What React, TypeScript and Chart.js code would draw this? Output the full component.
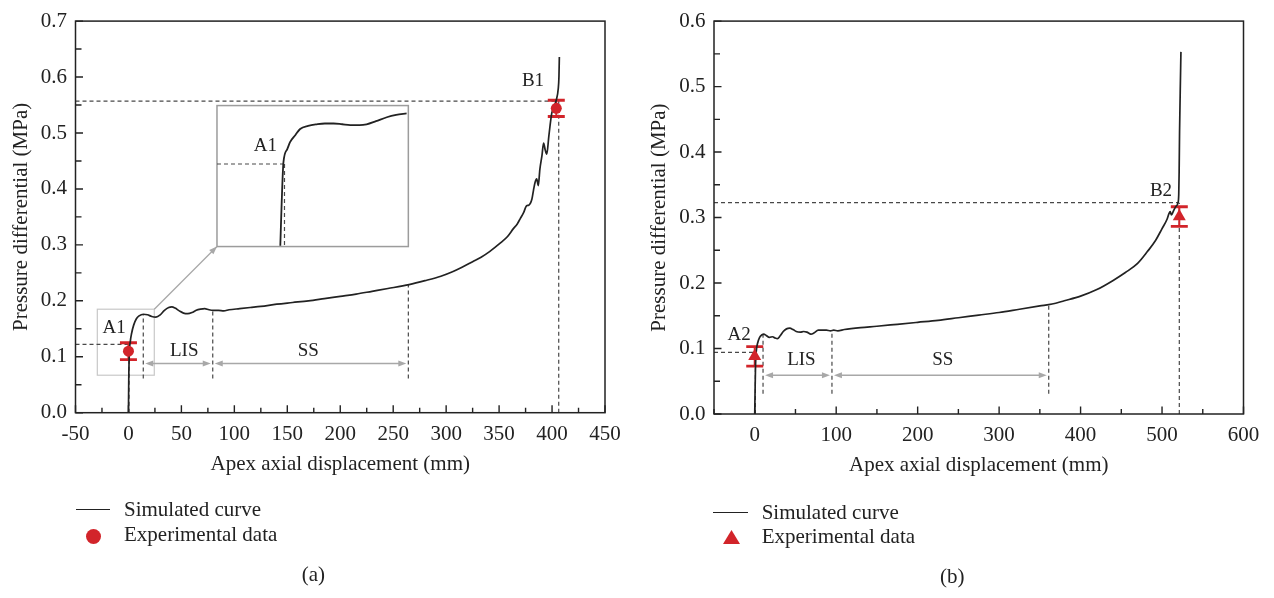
import React, { useEffect, useRef } from "react";
import { Chart, registerables } from "chart.js";

Chart.register(...registerables);

const SERIF = '"Liberation Serif", "Times New Roman", serif';
const INK = "#222222";
const RED = "rgb(210, 36, 42)";
const GUIDE = "#484848";
const ARROW = "#a8a8a8";

type Seg = [number, number, number, number];
type Note = [string, number, number];

// ---------------- Panel (a) ----------------
const aCurveX = [0, 0.3, 0.8, 1.8, 3, 5, 7.5, 10, 14, 18, 22, 26, 30, 34, 38, 41, 44, 48, 52, 56, 60, 64, 68, 72, 76, 80, 85, 90, 95, 105, 115, 125, 140, 155, 170, 185, 200, 215, 230, 245, 265, 280, 295, 306, 315, 325, 333, 341, 351, 358, 363.5, 367, 370, 373, 376, 378, 381, 382.5, 384, 385.5, 387, 388.5, 390.5, 392, 393.5, 395, 397, 399.7, 402, 404, 405.9, 406.5, 406.9];
const aCurveY = [0, 0.06, 0.105, 0.128, 0.142, 0.157, 0.168, 0.173, 0.176, 0.175, 0.172, 0.171, 0.175, 0.183, 0.188, 0.189, 0.187, 0.182, 0.178, 0.177, 0.179, 0.183, 0.185, 0.186, 0.184, 0.183, 0.183, 0.182, 0.184, 0.186, 0.188, 0.19, 0.194, 0.197, 0.2, 0.204, 0.208, 0.212, 0.217, 0.222, 0.229, 0.236, 0.244, 0.252, 0.26, 0.27, 0.278, 0.288, 0.303, 0.315, 0.329, 0.337, 0.347, 0.357, 0.37, 0.371, 0.382, 0.398, 0.412, 0.418, 0.406, 0.435, 0.46, 0.482, 0.47, 0.462, 0.495, 0.535, 0.548, 0.559, 0.58, 0.6, 0.636];
const aExpX = [0, 404];
const aExpY = [0.11, 0.544];
const aExpErr = [0.015, 0.0145];
const aXRange = [-50, 450];
const aYRange = [0, 0.7];
const aXLabels = [-50, 0, 50, 100, 150, 200, 250, 300, 350, 400, 450];
const aYLabels = [0, 0.1, 0.2, 0.3, 0.4, 0.5, 0.6, 0.7];
const aGuides: Seg[] = [
  [-50, 0.122, 0, 0.122],
  [0.5, 0, 0.5, 0.122],
  [14, 0.061, 14, 0.176],
  [79.6, 0.061, 79.6, 0.184],
  [264.3, 0.061, 264.3, 0.229],
  [-50, 0.557, 406.3, 0.557],
  [406.3, 0, 406.3, 0.557],
];
const aSpans = [
  [14, 79.6, 0.088],
  [79.6, 264.3, 0.088],
];
const aNotes: Note[] = [
  ["A1", -13.6, 0.152],
  ["LIS", 52.7, 0.111],
  ["SS", 169.8, 0.111],
  ["B1", 382, 0.593],
];
const aZoomBox = [-29.4, 24.4, 0.067, 0.185];
const aInsetBox = [83.6, 264.3, 0.297, 0.549];
const aInsetRange = [-19, 36, 0.014, 0.195];
const aInsetX = [-0.8, -0.4, 0.1, 1.2, 2.0, 3.5, 4.9, 7.2, 9.7, 12, 14.5, 17, 19.3, 22, 24, 26.7, 29.8, 32.5, 35.5];
const aInsetY = [0.015, 0.071, 0.122, 0.139, 0.148, 0.157, 0.165, 0.169, 0.171, 0.172, 0.172, 0.171, 0.17, 0.17, 0.171, 0.175, 0.18, 0.183, 0.185];
const aInsetGuides: Seg[] = [
  [-19, 0.12, 0.1, 0.12],
  [0.4, 0.12, 0.4, 0.014],
];
const aInsetNotes: Note[] = [["A1", -5.1, 0.1435]];

// ---------------- Panel (b) ----------------
const bCurveX = [0, 0.5, 1, 2, 3.5, 6, 9, 11, 14, 18, 22, 25, 28, 31, 35, 39, 43, 47, 51, 56, 60, 64, 69, 73, 78, 83, 88, 93, 97, 102, 110, 130, 150, 175, 200, 225, 250, 275, 300, 325, 350, 365, 380, 400, 420, 440, 455, 470, 482, 492, 500, 506, 508.5, 510, 511.5, 514, 517, 519.5, 520.5, 521, 521.5, 522.3, 523.2];
const bCurveY = [0, 0.04, 0.075, 0.097, 0.108, 0.117, 0.121, 0.122, 0.12, 0.117, 0.118, 0.116, 0.115, 0.119, 0.126, 0.13, 0.131, 0.129, 0.126, 0.125, 0.126, 0.125, 0.122, 0.124, 0.128, 0.128, 0.128, 0.127, 0.128, 0.127, 0.129, 0.132, 0.134, 0.137, 0.14, 0.143, 0.147, 0.151, 0.155, 0.16, 0.165, 0.168, 0.173, 0.18, 0.19, 0.204, 0.216, 0.23, 0.248, 0.265, 0.283, 0.297, 0.306, 0.309, 0.304, 0.31, 0.317, 0.322, 0.335, 0.37, 0.43, 0.49, 0.553];
const bExpX = [0, 521.2];
const bExpY = [0.088, 0.3015];
const bExpErr = [0.015, 0.015];
const bXRange = [-50, 600];
const bYRange = [0, 0.6];
const bXLabels = [0, 100, 200, 300, 400, 500, 600];
const bYLabels = [0, 0.1, 0.2, 0.3, 0.4, 0.5, 0.6];
const bGuides: Seg[] = [
  [-50, 0.094, 0, 0.094],
  [0.8, 0, 0.8, 0.094],
  [10.2, 0.031, 10.2, 0.122],
  [94.8, 0.031, 94.8, 0.128],
  [360.9, 0.031, 360.9, 0.166],
  [-50, 0.3227, 519.5, 0.3227],
  [521.2, 0, 521.2, 0.3227],
];
const bSpans = [
  [10.2, 94.8, 0.059],
  [94.8, 360.9, 0.059],
];
const bNotes: Note[] = [
  ["A2", -19.2, 0.12],
  ["LIS", 57.3, 0.083],
  ["SS", 230.9, 0.083],
  ["B2", 498.7, 0.34],
];

interface Panel {
  curveX: number[];
  curveY: number[];
  expX: number[];
  expY: number[];
  expErr: number[];
  marker: string;
  markerRadius: number;
  xRange: number[];
  xLabels: number[];
  xMinor: number;
  yRange: number[];
  yLabels: number[];
  yMinor: number;
  guides: Seg[];
  spans: number[][];
  notes: Note[];
  zoomBox?: number[];
  insetBox?: number[];
  insetRange?: number[];
  insetX?: number[];
  insetY?: number[];
  insetGuides?: Seg[];
  insetNotes?: Note[];
  area: { left: number; right: number; top: number; bottom: number; yTitle: number; xTitle: number };
}

const panelA: Panel = {
  curveX: aCurveX, curveY: aCurveY, expX: aExpX, expY: aExpY, expErr: aExpErr,
  marker: "circle", markerRadius: 5.5,
  xRange: aXRange, xLabels: aXLabels, xMinor: 25, yRange: aYRange, yLabels: aYLabels, yMinor: 0.05,
  guides: aGuides, spans: aSpans, notes: aNotes,
  zoomBox: aZoomBox, insetBox: aInsetBox, insetRange: aInsetRange,
  insetX: aInsetX, insetY: aInsetY, insetGuides: aInsetGuides, insetNotes: aInsetNotes,
  area: { left: 75.5, right: 605, top: 16.7, bottom: 412.7, yTitle: 21.5, xTitle: 464 },
};

const panelB: Panel = {
  curveX: bCurveX, curveY: bCurveY, expX: bExpX, expY: bExpY, expErr: bExpErr,
  marker: "triangle", markerRadius: 7.5,
  xRange: bXRange, xLabels: bXLabels, xMinor: 50, yRange: bYRange, yLabels: bYLabels, yMinor: 0.05,
  guides: bGuides, spans: bSpans, notes: bNotes,
  area: { left: 77, right: 606.5, top: 18, bottom: 414, yTitle: 22, xTitle: 465 },
};

const W = 637;
const H = 598;

function insetMapper(p: Panel) {
  const box = p.insetBox!;
  const r = p.insetRange!;
  return (xi: number, yi: number) => ({
    x: box[0] + ((xi - r[0]) / (r[1] - r[0])) * (box[1] - box[0]),
    y: box[2] + ((yi - r[2]) / (r[3] - r[2])) * (box[3] - box[2]),
  });
}

function arrowHead(ctx: CanvasRenderingContext2D, x: number, y: number, dx: number, dy: number) {
  const len = Math.hypot(dx, dy) || 1;
  const ux = dx / len, uy = dy / len;
  const hl = 8, hw = 3;
  ctx.beginPath();
  ctx.moveTo(x, y);
  ctx.lineTo(x - ux * hl - uy * hw, y - uy * hl + ux * hw);
  ctx.lineTo(x - ux * hl + uy * hw, y - uy * hl - ux * hw);
  ctx.closePath();
  ctx.fill();
}

function isLabel(v: number, list: number[]) {
  return list.some((t) => Math.abs(t - v) < 1e-6);
}

const decorPlugin = {
  id: "decor",
  beforeDatasetsDraw(chart: any, _args: any, opts: any) {
    const p: Panel = opts.panel;
    if (!p) return;
    const { ctx, scales } = chart;
    const X = (v: number) => scales.x.getPixelForValue(v);
    const Y = (v: number) => scales.y.getPixelForValue(v);
    ctx.save();

    if (p.zoomBox && p.insetBox) {
      const z = p.zoomBox;
      ctx.strokeStyle = "#c8c8c8";
      ctx.lineWidth = 1.2;
      ctx.strokeRect(X(z[0]), Y(z[3]), X(z[1]) - X(z[0]), Y(z[2]) - Y(z[3]));
      const b = p.insetBox;
      ctx.fillStyle = "#ffffff";
      ctx.fillRect(X(b[0]), Y(b[3]), X(b[1]) - X(b[0]), Y(b[2]) - Y(b[3]));
      ctx.strokeStyle = "#9c9c9c";
      ctx.lineWidth = 1.5;
      ctx.strokeRect(X(b[0]), Y(b[3]), X(b[1]) - X(b[0]), Y(b[2]) - Y(b[3]));
      const x0 = X(z[1]), y0 = Y(z[3]), x1 = X(b[0]), y1 = Y(b[2]);
      ctx.strokeStyle = ARROW;
      ctx.fillStyle = ARROW;
      ctx.lineWidth = 1.3;
      ctx.beginPath();
      ctx.moveTo(x0, y0);
      ctx.lineTo(x1, y1);
      ctx.stroke();
      arrowHead(ctx, x1, y1, x1 - x0, y1 - y0);
    }

    ctx.setLineDash([4, 3]);
    ctx.strokeStyle = GUIDE;
    ctx.lineWidth = 1.2;
    for (const [x1, y1, x2, y2] of p.guides) {
      ctx.beginPath();
      ctx.moveTo(X(x1), Y(y1));
      ctx.lineTo(X(x2), Y(y2));
      ctx.stroke();
    }
    if (p.insetGuides) {
      const m = insetMapper(p);
      for (const [x1, y1, x2, y2] of p.insetGuides) {
        const a = m(x1, y1), b = m(x2, y2);
        ctx.beginPath();
        ctx.moveTo(X(a.x), Y(a.y));
        ctx.lineTo(X(b.x), Y(b.y));
        ctx.stroke();
      }
    }
    ctx.setLineDash([]);

    ctx.strokeStyle = ARROW;
    ctx.fillStyle = ARROW;
    ctx.lineWidth = 1.5;
    for (const [xa, xb, yv] of p.spans) {
      const pa = X(xa) + 2, pb = X(xb) - 2, py = Y(yv);
      ctx.beginPath();
      ctx.moveTo(pa + 4, py);
      ctx.lineTo(pb - 4, py);
      ctx.stroke();
      arrowHead(ctx, pa, py, -1, 0);
      arrowHead(ctx, pb, py, 1, 0);
    }

    ctx.strokeStyle = RED;
    for (let i = 0; i < p.expX.length; i++) {
      const px = X(p.expX[i]);
      const top = Y(p.expY[i] + p.expErr[i]);
      const bot = Y(p.expY[i] - p.expErr[i]);
      ctx.lineWidth = 2;
      ctx.beginPath();
      ctx.moveTo(px, top);
      ctx.lineTo(px, bot);
      ctx.stroke();
      ctx.lineWidth = 2.8;
      ctx.beginPath();
      ctx.moveTo(px - 8.5, top);
      ctx.lineTo(px + 8.5, top);
      ctx.moveTo(px - 8.5, bot);
      ctx.lineTo(px + 8.5, bot);
      ctx.stroke();
    }
    ctx.restore();
  },
  afterDatasetsDraw(chart: any, _args: any, opts: any) {
    const p: Panel = opts.panel;
    if (!p) return;
    const { ctx, scales, chartArea } = chart;
    const X = (v: number) => scales.x.getPixelForValue(v);
    const Y = (v: number) => scales.y.getPixelForValue(v);
    ctx.save();
    ctx.fillStyle = INK;
    ctx.font = `19px ${SERIF}`;
    ctx.textAlign = "center";
    ctx.textBaseline = "middle";
    for (const [t, x, y] of p.notes) ctx.fillText(t, X(x), Y(y));
    if (p.insetNotes) {
      const m = insetMapper(p);
      for (const [t, x, y] of p.insetNotes) {
        const q = m(x, y);
        ctx.fillText(t, X(q.x), Y(q.y));
      }
    }

    const { left, right, top, bottom } = chartArea;
    ctx.strokeStyle = INK;
    ctx.lineWidth = 1.5;
    ctx.strokeRect(left, top, right - left, bottom - top);

    ctx.lineWidth = 1.4;
    ctx.beginPath();
    const [x0, x1] = p.xRange;
    for (let k = 0; x0 + k * p.xMinor <= x1 + 1e-9; k++) {
      const v = x0 + k * p.xMinor;
      const major = isLabel(v, p.xLabels) || Math.abs(v / (2 * p.xMinor) - Math.round(v / (2 * p.xMinor))) < 1e-6;
      const px = X(v);
      ctx.moveTo(px, bottom);
      ctx.lineTo(px, bottom - (major ? 7.5 : 5));
    }
    const [y0, y1] = p.yRange;
    for (let k = 0; y0 + k * p.yMinor <= y1 + 1e-9; k++) {
      const v = y0 + k * p.yMinor;
      const major = isLabel(v, p.yLabels);
      const py = Y(v);
      ctx.moveTo(left, py);
      ctx.lineTo(left + (major ? 7.5 : 6), py);
    }
    ctx.stroke();
    ctx.restore();
  },
};

function buildChart(canvas: HTMLCanvasElement, p: Panel) {
  const datasets: any[] = [
    {
      type: "scatter",
      label: "Experimental data",
      data: p.expX.map((x, i) => ({ x, y: p.expY[i] })),
      pointStyle: p.marker,
      pointRadius: p.markerRadius,
      pointHoverRadius: p.markerRadius,
      backgroundColor: RED,
      borderColor: RED,
      borderWidth: 0,
    },
    {
      type: "line",
      label: "Simulated curve",
      data: p.curveX.map((x, i) => ({ x, y: p.curveY[i] })),
      borderColor: INK,
      borderWidth: 1.7,
      pointRadius: 0,
      fill: false,
      cubicInterpolationMode: "monotone",
    },
  ];
  if (p.insetBox && p.insetX && p.insetY) {
    const m = insetMapper(p);
    datasets.push({
      type: "line",
      label: "Inset",
      data: p.insetX.map((x, i) => m(x, p.insetY![i])),
      borderColor: INK,
      borderWidth: 1.8,
      pointRadius: 0,
      fill: false,
      cubicInterpolationMode: "monotone",
    });
  }
  const a = p.area;
  const titleFont = { family: SERIF, size: 21 };
  const tickFont = { family: SERIF, size: 21 };
  const xHeight = a.xTitle + 12.6 - a.bottom;
  return new Chart(canvas, {
    type: "line",
    data: { datasets },
    options: {
      animation: false,
      responsive: false,
      maintainAspectRatio: false,
      events: [],
      layout: {
        padding: { left: 0, top: a.top, right: W - a.right, bottom: H - a.bottom - xHeight },
      },
      plugins: {
        legend: { display: false },
        tooltip: { enabled: false },
        decor: { panel: p },
      } as any,
      scales: {
        x: {
          type: "linear",
          min: p.xRange[0],
          max: p.xRange[1],
          grid: { display: false, drawTicks: false },
          border: { display: false },
          afterBuildTicks: (s: any) => {
            s.ticks = p.xLabels.map((v) => ({ value: v }));
          },
          ticks: {
            autoSkip: false,
            maxRotation: 0,
            padding: 9,
            color: INK,
            font: tickFont,
            callback: (v: any) => String(Math.round(Number(v))),
          },
          title: {
            display: true,
            text: "Apex axial displacement (mm)",
            color: INK,
            font: titleFont,
            padding: { top: 0, bottom: 0 },
          },
          afterFit: (s: any) => {
            s.height = xHeight;
          },
        },
        y: {
          type: "linear",
          min: p.yRange[0],
          max: p.yRange[1],
          grid: { display: false, drawTicks: false },
          border: { display: false },
          afterBuildTicks: (s: any) => {
            s.ticks = p.yLabels.map((v) => ({ value: v }));
          },
          ticks: {
            autoSkip: false,
            padding: 8.5,
            color: INK,
            font: tickFont,
            callback: (v: any) => Number(v).toFixed(1),
          },
          title: {
            display: true,
            text: "Pressure differential (MPa)",
            color: INK,
            font: titleFont,
            padding: { top: a.yTitle - 12.6, bottom: 0 },
          },
          afterFit: (s: any) => {
            s.width = a.left;
          },
        },
      },
    } as any,
    plugins: [decorPlugin as any],
  });
}

const textStyle: React.CSSProperties = {
  position: "absolute",
  fontFamily: SERIF,
  fontSize: 21,
  lineHeight: "21px",
  color: INK,
  whiteSpace: "nowrap",
};

export default function App() {
  const refA = useRef<HTMLCanvasElement>(null);
  const refB = useRef<HTMLCanvasElement>(null);

  useEffect(() => {
    const ca = buildChart(refA.current!, panelA);
    const cb = buildChart(refB.current!, panelB);
    return () => {
      ca.destroy();
      cb.destroy();
    };
  }, []);

  return (
    <div style={{ position: "absolute", left: 0, top: 0, width: 1274, height: 598, background: "#fff", overflow: "hidden" }}>
      <canvas ref={refA} width={W} height={H} style={{ position: "absolute", left: 0, top: 0, width: W, height: H }} />
      <canvas ref={refB} width={W} height={H} style={{ position: "absolute", left: W, top: 0, width: W, height: H }} />

      <div style={{ position: "absolute", left: 76, top: 509.3, width: 34, height: 0, borderTop: `1.5px solid ${INK}` }} />
      <div style={{ ...textStyle, left: 124, top: 499.1 }}>Simulated curve</div>
      <div style={{ position: "absolute", left: 86, top: 528.5, width: 15, height: 15, borderRadius: "50%", background: RED }} />
      <div style={{ ...textStyle, left: 124, top: 524.1 }}>Experimental data</div>
      <div style={{ ...textStyle, left: 301.7, top: 564.1 }}>(a)</div>

      <div style={{ position: "absolute", left: 713, top: 512, width: 35, height: 0, borderTop: `1.5px solid ${INK}` }} />
      <div style={{ ...textStyle, left: 761.7, top: 501.7 }}>Simulated curve</div>
      <svg style={{ position: "absolute", left: 722, top: 529 }} width={19} height={16}>
        <polygon points="9.5,1 18,15 1,15" fill={RED} />
      </svg>
      <div style={{ ...textStyle, left: 761.7, top: 525.7 }}>Experimental data</div>
      <div style={{ ...textStyle, left: 940, top: 565.7 }}>(b)</div>
    </div>
  );
}
